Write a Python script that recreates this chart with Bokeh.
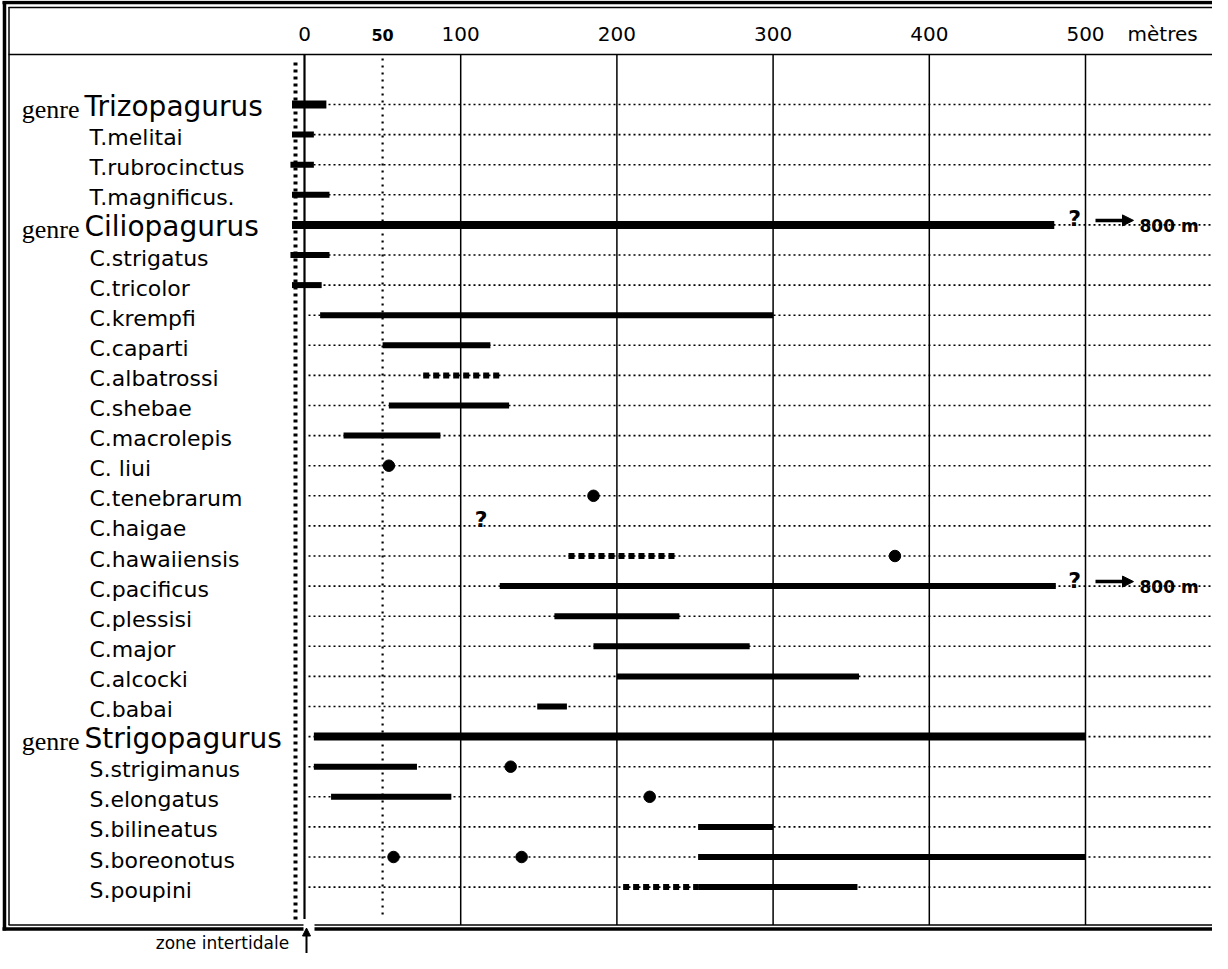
import numpy as np
from bokeh.plotting import figure
from bokeh.models import Range1d, Arrow, NormalHead, ColumnDataSource
from bokeh.core.properties import value
from bokeh.embed import file_html
from bokeh.resources import INLINE

# ------------------------------------------------------------------ data
species = ["Trizopagurus", "T.melitai", "T.rubrocinctus", "T.magnificus.",
           "Ciliopagurus", "C.strigatus", "C.tricolor", "C.krempfi", "C.caparti",
           "C.albatrossi", "C.shebae", "C.macrolepis", "C. liui", "C.tenebrarum",
           "C.haigae", "C.hawaiiensis", "C.pacificus", "C.plessisi", "C.major",
           "C.alcocki", "C.babai", "Strigopagurus", "S.strigimanus", "S.elongatus",
           "S.bilineatus", "S.boreonotus", "S.poupini"]
genera = ["Trizopagurus", "Ciliopagurus", "Strigopagurus"]
genus_prefix = "genre"

# depth ranges (m), solid bars
bar_species = ["Trizopagurus", "T.melitai", "T.rubrocinctus", "T.magnificus.",
               "Ciliopagurus", "C.strigatus", "C.tricolor", "C.krempfi", "C.caparti",
               "C.shebae", "C.macrolepis", "C.pacificus", "C.plessisi", "C.major",
               "C.alcocki", "C.babai", "Strigopagurus", "S.strigimanus", "S.elongatus",
               "S.bilineatus", "S.boreonotus", "S.poupini"]
bar_start = [-8, -8, -9, -8, -8, -9, -8, 10, 50, 54, 25, 125, 160, 185,
             200, 149, 6, 6, 17, 252, 252, 252]
bar_end = [14, 6, 6, 16, 480, 16, 11, 300, 119, 131, 87, 481, 240, 285,
           355, 168, 500, 72, 94, 300, 500, 354]

# uncertain ranges (dashed bars)
dash_species = ["C.albatrossi", "C.hawaiiensis", "S.poupini"]
dash_start = [76, 169, 204]
dash_end = [126, 238, 252]

# isolated records
dot_species = ["C. liui", "C.tenebrarum", "C.hawaiiensis", "S.strigimanus",
               "S.elongatus", "S.boreonotus", "S.boreonotus"]
dot_depth = [54, 185, 378, 132, 221, 57, 139]

# question marks
query_species = ["Ciliopagurus", "C.haigae", "C.pacificus"]
query_depth = [493, 113, 493]

# extension to 800 m
ext_species = ["Ciliopagurus", "C.pacificus"]
ext_label = ["800 m", "800 m"]

major_ticks = [0, 100, 200, 300, 400, 500]
major_tick_labels = ["0", "100", "200", "300", "400", "500"]
minor_tick = 50
minor_tick_label = "50"
unit_label = "mètres"
intertidal_label = "zone  intertidale"

# ------------------------------------------------------------------ layout helpers
W, H, PAD = 1212, 953, 8
X0_PX, PX_PER_M = 312.0, 1.562
ROW0_PX, ROW_PX = 112.0, 30.1
BOT_IN, BOT_OUT = 932.5, 936.5


def mx(px):
    return (px - X0_PX) / PX_PER_M


def ry(py):
    return (py - ROW0_PX) / ROW_PX


row = {s: i for i, s in enumerate(species)}
X_END = mx(PAD + W)

p = figure(width=W, height=H,
           x_range=Range1d(mx(PAD), X_END),
           y_range=Range1d(ry(PAD + H), ry(PAD)),
           output_backend="svg", toolbar_location=None, min_border=0,
           outline_line_color=None, x_axis_location=None, y_axis_location=None,
           background_fill_color="white", border_fill_color="white")
p.grid.visible = False

SANS = value("DejaVu Sans")

# ---- frame
p.segment(x0=[mx(12), mx(16.5)], y0=[ry(9), ry(14.5)],
          x1=[mx(12), mx(16.5)], y1=[ry(BOT_OUT + 1.5), ry(BOT_IN)],
          line_width=[3.5, 1.5], color="black")
p.segment(x0=[mx(10), mx(16)], y0=[ry(10), ry(15)],
          x1=[X_END, X_END], y1=[ry(10), ry(15)],
          line_width=[3.5, 1.5], color="black")
p.segment(x0=[mx(16), mx(322), mx(10), mx(322)],
          y0=[ry(BOT_IN), ry(BOT_IN), ry(BOT_OUT), ry(BOT_OUT)],
          x1=[mx(311), X_END, mx(311), X_END],
          y1=[ry(BOT_IN), ry(BOT_IN), ry(BOT_OUT), ry(BOT_OUT)],
          line_width=[1.5, 1.5, 3.5, 3.5], color="black")
# header separator
p.segment(x0=[mx(16)], y0=[ry(62)], x1=[X_END], y1=[ry(62)], line_width=1.5, color="black")

# ---- row guide lines
n = len(species)
p.segment(x0=[mx(316)] * n, y0=list(range(n)), x1=[X_END] * n, y1=list(range(n)),
          line_width=1.6, line_dash="2 3", color="black")

# ---- vertical reference lines
p.segment(x0=major_ticks[1:], y0=[ry(62)] * 5, x1=major_ticks[1:], y1=[ry(BOT_IN)] * 5,
          line_width=1.5, color="black")
p.segment(x0=[major_ticks[0]], y0=[ry(62)], x1=[major_ticks[0]], y1=[ry(BOT_IN - 6)],
          line_width=2.2, color="black")
p.segment(x0=[minor_tick], y0=[ry(66)], x1=[minor_tick], y1=[ry(BOT_IN - 8)],
          line_width=2.2, line_dash="2 5", color="black")
# intertidal zone marker column
p.segment(x0=[mx(303)], y0=[ry(70)], x1=[mx(303)], y1=[ry(BOT_IN - 2)],
          line_width=4, line_dash="3 4", color="black")

# ---- bars
bsrc = ColumnDataSource(dict(
    y=[row[s] for s in bar_species], x0=bar_start, x1=bar_end,
    lw=[8 if s in genera else 6 for s in bar_species]))
p.segment(x0="x0", y0="y", x1="x1", y1="y", line_width="lw", color="black",
          line_cap="butt", source=bsrc)
p.segment(x0=dash_start, y0=[row[s] for s in dash_species],
          x1=dash_end, y1=[row[s] for s in dash_species],
          line_width=6, line_dash="6 4", color="black", line_cap="butt")
p.scatter(x=dot_depth, y=[row[s] for s in dot_species], size=11.5, color="black")

# question marks
p.text(x=query_depth, y=[row[s] - 0.2 for s in query_species], text=["?"] * len(query_species),
       text_font=SANS, text_font_style="bold", text_font_size="22px",
       text_align="center", text_baseline="middle", color="black")

# extension arrows
for s in ext_species:
    yy = row[s] - 0.15
    p.add_layout(Arrow(end=NormalHead(size=11, fill_color="black", line_color="black"),
                       x_start=mx(1103), y_start=yy, x_end=mx(1141), y_end=yy,
                       line_width=3.5, line_color="black"))
p.text(x=[mx(1147)] * len(ext_species), y=[row[s] + 0.02 for s in ext_species], text=ext_label,
       text_font=SANS, text_font_style="bold", text_font_size="17px",
       text_align="left", text_baseline="alphabetic", color="black")

# ---- labels
sp_rows = [s for s in species if s not in genera]
p.text(x=[mx(97)] * len(sp_rows), y=[row[s] + 0.1 for s in sp_rows], text=sp_rows,
       text_font=SANS, text_font_size="22px", text_align="left",
       text_baseline="middle", color="black")
p.text(x=[mx(87)] * len(genera), y=[row[g] + 0.15 for g in genera], text=[genus_prefix] * len(genera),
       text_font=value("Liberation Serif"), text_font_size="26px", text_align="right",
       text_baseline="middle", color="black")
p.text(x=[mx(92)] * len(genera), y=[row[g] + 0.05 for g in genera], text=genera,
       text_font=SANS, text_font_size="28px", text_align="left",
       text_baseline="middle", color="black")

# header tick labels
p.text(x=major_ticks, y=[ry(41)] * len(major_ticks), text=major_tick_labels,
       text_font=SANS, text_font_size="20px", text_align="center",
       text_baseline="middle", color="black")
p.text(x=[minor_tick], y=[ry(42)], text=[minor_tick_label],
       text_font=SANS, text_font_style="bold", text_font_size="16px",
       text_align="center", text_baseline="middle", color="black")
p.text(x=[mx(1135)], y=[ry(41)], text=[unit_label],
       text_font=SANS, text_font_size="20px", text_align="left",
       text_baseline="middle", color="black")

# intertidal note
p.text(x=[mx(302)], y=[ry(960)], text=[intertidal_label],
       text_font=SANS, text_font_size="17px", text_align="right",
       text_baseline="bottom", color="black")
p.add_layout(Arrow(end=NormalHead(size=8, fill_color="black", line_color="black"),
                   x_start=mx(314), y_start=ry(961), x_end=mx(314), y_end=ry(BOT_IN + 3),
                   line_width=2, line_color="black"))

open("out.html", "w").write(file_html(p, INLINE))
